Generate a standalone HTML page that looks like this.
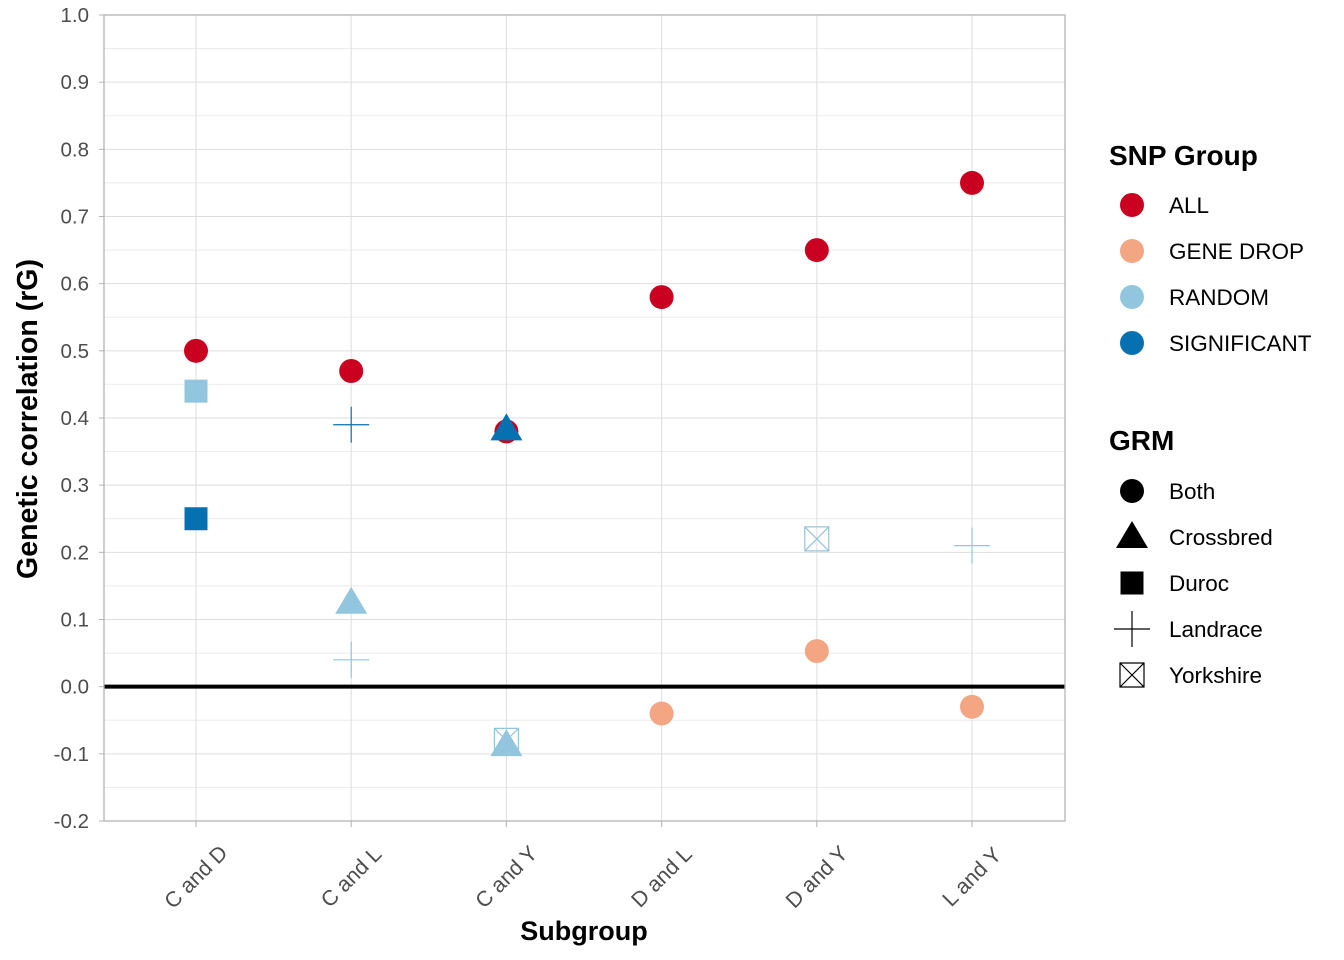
<!DOCTYPE html>
<html><head><meta charset="utf-8"><style>
body{margin:0;background:#fff}
svg{display:block;font-family:"Liberation Sans",Arial,sans-serif}
</style></head><body>
<svg id="chart" width="1344" height="960" viewBox="0 0 1344 960">
<g id="grid"></g>
<g id="marks"></g>
<g id="axes"></g>
<text x="584" y="940" text-anchor="middle" font-size="27" font-weight="bold">Subgroup</text>
<text transform="translate(37,419) rotate(-90)" text-anchor="middle" font-size="28.5" font-weight="bold">Genetic correlation (rG)</text>
<g id="legend"></g>
</svg>
<script>
const categories=["C and D","C and L","C and Y","D and L","D and Y","L and Y"];
const yTicks=[-0.2,-0.1,0,0.1,0.2,0.3,0.4,0.5,0.6,0.7,0.8,0.9,1.0];
const groups=["ALL","GENE DROP","RANDOM","SIGNIFICANT"];
const groupColors=["#CA0020","#F4A582","#92C5DE","#0571B0"];
const grms=["Both","Crossbred","Duroc","Landrace","Yorkshire"];
const ptCat=[0,0,0, 1,1,1,1, 2,2,2,2, 3,3, 4,4,4, 5,5,5];
const ptValue=[0.50,0.44,0.25, 0.47,0.39,0.125,0.04, 0.38,0.383,-0.08,-0.087, 0.58,-0.04, 0.65,0.22,0.053, 0.75,0.21,-0.03];
const ptGroup=[0,2,3, 0,3,2,2, 0,3,2,2, 0,1, 0,2,1, 0,2,1];
const ptGrm=[0,2,2, 0,3,1,3, 0,1,4,1, 0,0, 0,4,0, 0,3,0];

const NS="http://www.w3.org/2000/svg";
const L=104,R=1065,T=15,B=821;
const x=i=>196+i*155.2;
const y=v=>B-(v-(-0.2))/1.2*(B-T);
function mk(tag,attrs,parent){const e=document.createElementNS(NS,tag);for(const k in attrs)e.setAttribute(k,attrs[k]);parent.appendChild(e);return e;}
const grid=document.getElementById('grid'),marks=document.getElementById('marks'),axes=document.getElementById('axes'),legend=document.getElementById('legend');
for(let k=0;k<yTicks.length;k++){
  const gl=mk('line',{x1:L,x2:R,y1:y(yTicks[k]),y2:y(yTicks[k]),stroke:'#dedede','stroke-width':1},grid);
  
  
  if(k<yTicks.length-1){
    const mg=mk('line',{x1:L,x2:R,y1:y(yTicks[k]+0.05),y2:y(yTicks[k]+0.05),stroke:'#ebebeb','stroke-width':1},grid);
    
    
  }
  const t=mk('text',{x:89,y:y(yTicks[k])+7,'text-anchor':'end','font-size':20.5,fill:'#4d4d4d'},axes);
  t.textContent=yTicks[k].toFixed(1);
  
  
  mk('line',{x1:L-5,x2:L,y1:y(yTicks[k]),y2:y(yTicks[k]),stroke:'#b3b3b3'},axes);
}
categories.forEach((c,i)=>{
  const gl=mk('line',{x1:x(i),x2:x(i),y1:T,y2:B,stroke:'#dedede'},grid);
  
  
  mk('line',{x1:x(i),x2:x(i),y1:B,y2:B+6,stroke:'#b3b3b3'},axes);
  const t=mk('text',{transform:`translate(${x(i)+5},${B+61}) rotate(-45)`,'text-anchor':'middle','font-size':21.5,fill:'#4d4d4d'},axes);
  t.textContent=c;
  
  
});
const fr=mk('rect',{x:L,y:T,width:R-L,height:B-T,fill:'none',stroke:'#b3b3b3','stroke-width':1.3},axes);


const zl=mk('line',{x1:L,x2:R,y1:y(0),y2:y(0),stroke:'#000','stroke-width':4},marks);



function shape(g,cx,cy,col,parent){
  let e;
  if(g===0)e=mk('circle',{cx,cy,r:12,fill:col},parent);
  else if(g===1)e=mk('polygon',{points:`${cx},${cy-16} ${cx+16},${cy+11} ${cx-16},${cy+11}`,fill:col},parent);
  else if(g===2)e=mk('rect',{x:cx-11.5,y:cy-11.5,width:23,height:23,fill:col},parent);
  else if(g===3)e=mk('path',{d:`M${cx-18},${cy}H${cx+18}M${cx},${cy-18}V${cy+18}`,stroke:col,'stroke-width':1.2,fill:'none'},parent);
  else e=mk('path',{d:`M${cx-12},${cy-12}h24v24h-24zM${cx-12},${cy-12}L${cx+12},${cy+12}M${cx+12},${cy-12}L${cx-12},${cy+12}`,stroke:col,'stroke-width':1.2,fill:'none'},parent);
  return e;
}
for(let i=0;i<ptValue.length;i++){
  const e=shape(ptGrm[i],x(ptCat[i]),y(ptValue[i]),groupColors[ptGroup[i]],marks);
  
  
}
const t1=mk('text',{x:1109,y:165,'font-size':28,'font-weight':'bold'},legend);t1.textContent='SNP Group';


groups.forEach((g,i)=>{
  const cy=205+i*46;
  mk('circle',{cx:1132,cy,r:12,fill:groupColors[i]},legend);
  const t=mk('text',{x:1169,y:cy+8,'font-size':22.5},legend);t.textContent=g;
  
  
});
const t2=mk('text',{x:1109,y:450,'font-size':28,'font-weight':'bold'},legend);t2.textContent='GRM';


grms.forEach((g,i)=>{
  const cy=491+i*46;
  shape(i,1132,cy,'#000',legend);
  const t=mk('text',{x:1169,y:cy+8,'font-size':22.5},legend);t.textContent=g;
  
  
});
</script>
</body></html>
